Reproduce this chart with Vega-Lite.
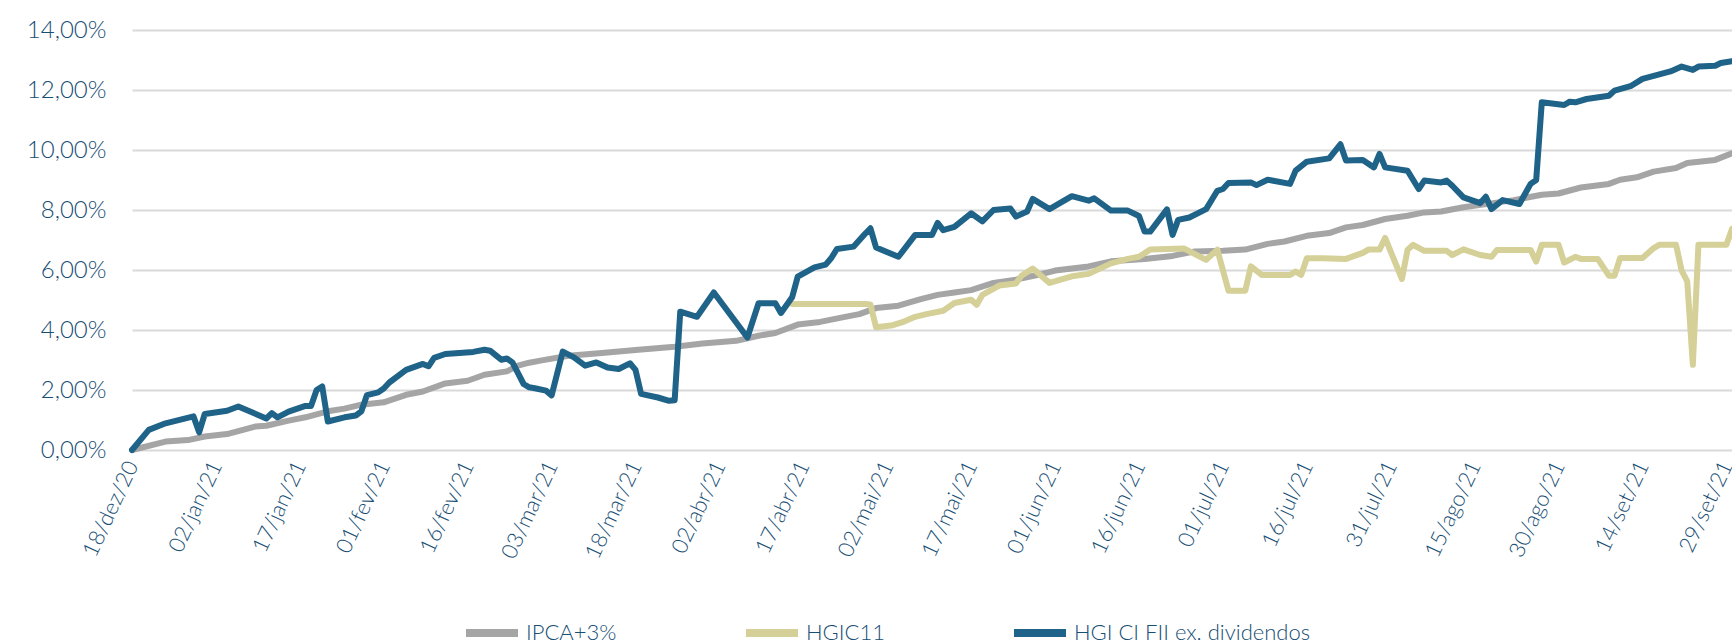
{
  "$schema": "https://vega.github.io/schema/vega-lite/v6.json",
  "width": 1600,
  "height": 420,
  "autosize": {"type": "none"},
  "padding": {"left": 132, "top": 30, "right": 0, "bottom": 193},
  "background": "white",
  "config": {
    "view": {"stroke": null},
    "font": "Lato",
    "axis": {"labelFont": "Lato", "labelFontWeight": 300, "labelColor": "#174E74", "domain": false, "ticks": false}
  },
  "data": {"values": [
    {"s":"IPCA+3%","d":"2020-12-18","v":0},
    {"s":"IPCA+3%","d":"2020-12-24","v":0.28},
    {"s":"IPCA+3%","d":"2020-12-28","v":0.33},
    {"s":"IPCA+3%","d":"2020-12-31","v":0.45},
    {"s":"IPCA+3%","d":"2021-01-04","v":0.53},
    {"s":"IPCA+3%","d":"2021-01-09","v":0.78},
    {"s":"IPCA+3%","d":"2021-01-11","v":0.81},
    {"s":"IPCA+3%","d":"2021-01-15","v":0.98},
    {"s":"IPCA+3%","d":"2021-01-18","v":1.09},
    {"s":"IPCA+3%","d":"2021-01-22","v":1.29},
    {"s":"IPCA+3%","d":"2021-01-25","v":1.38},
    {"s":"IPCA+3%","d":"2021-01-28","v":1.51},
    {"s":"IPCA+3%","d":"2021-02-01","v":1.59},
    {"s":"IPCA+3%","d":"2021-02-05","v":1.84},
    {"s":"IPCA+3%","d":"2021-02-08","v":1.95},
    {"s":"IPCA+3%","d":"2021-02-12","v":2.22},
    {"s":"IPCA+3%","d":"2021-02-16","v":2.31},
    {"s":"IPCA+3%","d":"2021-02-19","v":2.51},
    {"s":"IPCA+3%","d":"2021-02-23","v":2.62},
    {"s":"IPCA+3%","d":"2021-02-25","v":2.81},
    {"s":"IPCA+3%","d":"2021-02-27","v":2.91},
    {"s":"IPCA+3%","d":"2021-03-01","v":2.98},
    {"s":"IPCA+3%","d":"2021-03-06","v":3.14},
    {"s":"IPCA+3%","d":"2021-03-12","v":3.23},
    {"s":"IPCA+3%","d":"2021-03-18","v":3.33},
    {"s":"IPCA+3%","d":"2021-03-25","v":3.44},
    {"s":"IPCA+3%","d":"2021-03-30","v":3.55},
    {"s":"IPCA+3%","d":"2021-04-05","v":3.64},
    {"s":"IPCA+3%","d":"2021-04-09","v":3.81},
    {"s":"IPCA+3%","d":"2021-04-12","v":3.9},
    {"s":"IPCA+3%","d":"2021-04-16","v":4.18},
    {"s":"IPCA+3%","d":"2021-04-20","v":4.27},
    {"s":"IPCA+3%","d":"2021-04-24","v":4.42},
    {"s":"IPCA+3%","d":"2021-04-27","v":4.53},
    {"s":"IPCA+3%","d":"2021-04-30","v":4.73},
    {"s":"IPCA+3%","d":"2021-05-04","v":4.81},
    {"s":"IPCA+3%","d":"2021-05-08","v":5.03},
    {"s":"IPCA+3%","d":"2021-05-11","v":5.17},
    {"s":"IPCA+3%","d":"2021-05-14","v":5.25},
    {"s":"IPCA+3%","d":"2021-05-17","v":5.33},
    {"s":"IPCA+3%","d":"2021-05-21","v":5.57},
    {"s":"IPCA+3%","d":"2021-05-25","v":5.68},
    {"s":"IPCA+3%","d":"2021-05-29","v":5.84},
    {"s":"IPCA+3%","d":"2021-06-01","v":5.98},
    {"s":"IPCA+3%","d":"2021-06-07","v":6.12},
    {"s":"IPCA+3%","d":"2021-06-11","v":6.29},
    {"s":"IPCA+3%","d":"2021-06-17","v":6.37},
    {"s":"IPCA+3%","d":"2021-06-22","v":6.47},
    {"s":"IPCA+3%","d":"2021-06-26","v":6.62},
    {"s":"IPCA+3%","d":"2021-07-01","v":6.64},
    {"s":"IPCA+3%","d":"2021-07-05","v":6.68},
    {"s":"IPCA+3%","d":"2021-07-09","v":6.87},
    {"s":"IPCA+3%","d":"2021-07-12","v":6.95},
    {"s":"IPCA+3%","d":"2021-07-16","v":7.14},
    {"s":"IPCA+3%","d":"2021-07-20","v":7.23},
    {"s":"IPCA+3%","d":"2021-07-23","v":7.42},
    {"s":"IPCA+3%","d":"2021-07-26","v":7.5},
    {"s":"IPCA+3%","d":"2021-07-30","v":7.7},
    {"s":"IPCA+3%","d":"2021-08-03","v":7.81},
    {"s":"IPCA+3%","d":"2021-08-06","v":7.92},
    {"s":"IPCA+3%","d":"2021-08-09","v":7.95},
    {"s":"IPCA+3%","d":"2021-08-13","v":8.09},
    {"s":"IPCA+3%","d":"2021-08-18","v":8.22},
    {"s":"IPCA+3%","d":"2021-08-22","v":8.33},
    {"s":"IPCA+3%","d":"2021-08-27","v":8.51},
    {"s":"IPCA+3%","d":"2021-08-30","v":8.55},
    {"s":"IPCA+3%","d":"2021-09-03","v":8.75},
    {"s":"IPCA+3%","d":"2021-09-08","v":8.87},
    {"s":"IPCA+3%","d":"2021-09-10","v":9.01},
    {"s":"IPCA+3%","d":"2021-09-13","v":9.09},
    {"s":"IPCA+3%","d":"2021-09-16","v":9.28},
    {"s":"IPCA+3%","d":"2021-09-20","v":9.4},
    {"s":"IPCA+3%","d":"2021-09-22","v":9.57},
    {"s":"IPCA+3%","d":"2021-09-27","v":9.67},
    {"s":"IPCA+3%","d":"2021-09-30","v":9.89},
    {"s":"HGIC11","d":"2021-04-15","v":4.87},
    {"s":"HGIC11","d":"2021-04-28","v":4.87},
    {"s":"HGIC11","d":"2021-04-29","v":4.85},
    {"s":"HGIC11","d":"2021-04-30","v":4.09},
    {"s":"HGIC11","d":"2021-05-03","v":4.16},
    {"s":"HGIC11","d":"2021-05-05","v":4.28},
    {"s":"HGIC11","d":"2021-05-07","v":4.44},
    {"s":"HGIC11","d":"2021-05-09","v":4.53},
    {"s":"HGIC11","d":"2021-05-12","v":4.64},
    {"s":"HGIC11","d":"2021-05-14","v":4.9},
    {"s":"HGIC11","d":"2021-05-17","v":5.01},
    {"s":"HGIC11","d":"2021-05-18","v":4.84},
    {"s":"HGIC11","d":"2021-05-19","v":5.17},
    {"s":"HGIC11","d":"2021-05-22","v":5.48},
    {"s":"HGIC11","d":"2021-05-25","v":5.55},
    {"s":"HGIC11","d":"2021-05-26","v":5.81},
    {"s":"HGIC11","d":"2021-05-28","v":6.05},
    {"s":"HGIC11","d":"2021-05-31","v":5.57},
    {"s":"HGIC11","d":"2021-06-04","v":5.79},
    {"s":"HGIC11","d":"2021-06-07","v":5.87},
    {"s":"HGIC11","d":"2021-06-11","v":6.22},
    {"s":"HGIC11","d":"2021-06-14","v":6.37},
    {"s":"HGIC11","d":"2021-06-16","v":6.44},
    {"s":"HGIC11","d":"2021-06-18","v":6.68},
    {"s":"HGIC11","d":"2021-06-24","v":6.72},
    {"s":"HGIC11","d":"2021-06-28","v":6.34},
    {"s":"HGIC11","d":"2021-06-30","v":6.68},
    {"s":"HGIC11","d":"2021-07-02","v":5.31},
    {"s":"HGIC11","d":"2021-07-05","v":5.31},
    {"s":"HGIC11","d":"2021-07-06","v":6.12},
    {"s":"HGIC11","d":"2021-07-08","v":5.83},
    {"s":"HGIC11","d":"2021-07-13","v":5.83},
    {"s":"HGIC11","d":"2021-07-14","v":5.95},
    {"s":"HGIC11","d":"2021-07-15","v":5.84},
    {"s":"HGIC11","d":"2021-07-16","v":6.39},
    {"s":"HGIC11","d":"2021-07-19","v":6.39},
    {"s":"HGIC11","d":"2021-07-23","v":6.37},
    {"s":"HGIC11","d":"2021-07-26","v":6.57},
    {"s":"HGIC11","d":"2021-07-27","v":6.68},
    {"s":"HGIC11","d":"2021-07-29","v":6.68},
    {"s":"HGIC11","d":"2021-07-30","v":7.07},
    {"s":"HGIC11","d":"2021-08-02","v":5.7},
    {"s":"HGIC11","d":"2021-08-03","v":6.67},
    {"s":"HGIC11","d":"2021-08-04","v":6.84},
    {"s":"HGIC11","d":"2021-08-06","v":6.64},
    {"s":"HGIC11","d":"2021-08-10","v":6.64},
    {"s":"HGIC11","d":"2021-08-11","v":6.5},
    {"s":"HGIC11","d":"2021-08-13","v":6.69},
    {"s":"HGIC11","d":"2021-08-16","v":6.5},
    {"s":"HGIC11","d":"2021-08-18","v":6.44},
    {"s":"HGIC11","d":"2021-08-19","v":6.67},
    {"s":"HGIC11","d":"2021-08-25","v":6.67},
    {"s":"HGIC11","d":"2021-08-26","v":6.28},
    {"s":"HGIC11","d":"2021-08-27","v":6.84},
    {"s":"HGIC11","d":"2021-08-30","v":6.84},
    {"s":"HGIC11","d":"2021-08-31","v":6.25},
    {"s":"HGIC11","d":"2021-09-02","v":6.44},
    {"s":"HGIC11","d":"2021-09-03","v":6.37},
    {"s":"HGIC11","d":"2021-09-06","v":6.37},
    {"s":"HGIC11","d":"2021-09-08","v":5.81},
    {"s":"HGIC11","d":"2021-09-09","v":5.81},
    {"s":"HGIC11","d":"2021-09-10","v":6.4},
    {"s":"HGIC11","d":"2021-09-14","v":6.4},
    {"s":"HGIC11","d":"2021-09-16","v":6.73},
    {"s":"HGIC11","d":"2021-09-17","v":6.84},
    {"s":"HGIC11","d":"2021-09-20","v":6.84},
    {"s":"HGIC11","d":"2021-09-21","v":5.98},
    {"s":"HGIC11","d":"2021-09-22","v":5.62},
    {"s":"HGIC11","d":"2021-09-23","v":2.84},
    {"s":"HGIC11","d":"2021-09-24","v":6.84},
    {"s":"HGIC11","d":"2021-09-29","v":6.84},
    {"s":"HGIC11","d":"2021-09-30","v":7.37},
    {"s":"HGI CI FII ex. dividendos","d":"2020-12-18","v":0},
    {"s":"HGI CI FII ex. dividendos","d":"2020-12-21","v":0.67},
    {"s":"HGI CI FII ex. dividendos","d":"2020-12-24","v":0.89},
    {"s":"HGI CI FII ex. dividendos","d":"2020-12-29","v":1.12},
    {"s":"HGI CI FII ex. dividendos","d":"2020-12-30","v":0.59},
    {"s":"HGI CI FII ex. dividendos","d":"2020-12-31","v":1.2},
    {"s":"HGI CI FII ex. dividendos","d":"2021-01-04","v":1.31},
    {"s":"HGI CI FII ex. dividendos","d":"2021-01-06","v":1.45},
    {"s":"HGI CI FII ex. dividendos","d":"2021-01-11","v":1.05},
    {"s":"HGI CI FII ex. dividendos","d":"2021-01-12","v":1.23},
    {"s":"HGI CI FII ex. dividendos","d":"2021-01-13","v":1.09},
    {"s":"HGI CI FII ex. dividendos","d":"2021-01-15","v":1.28},
    {"s":"HGI CI FII ex. dividendos","d":"2021-01-18","v":1.47},
    {"s":"HGI CI FII ex. dividendos","d":"2021-01-19","v":1.47},
    {"s":"HGI CI FII ex. dividendos","d":"2021-01-20","v":2.0},
    {"s":"HGI CI FII ex. dividendos","d":"2021-01-21","v":2.12},
    {"s":"HGI CI FII ex. dividendos","d":"2021-01-22","v":0.95},
    {"s":"HGI CI FII ex. dividendos","d":"2021-01-25","v":1.09},
    {"s":"HGI CI FII ex. dividendos","d":"2021-01-27","v":1.15},
    {"s":"HGI CI FII ex. dividendos","d":"2021-01-28","v":1.29},
    {"s":"HGI CI FII ex. dividendos","d":"2021-01-29","v":1.83},
    {"s":"HGI CI FII ex. dividendos","d":"2021-01-31","v":1.92},
    {"s":"HGI CI FII ex. dividendos","d":"2021-02-01","v":2.05},
    {"s":"HGI CI FII ex. dividendos","d":"2021-02-02","v":2.25},
    {"s":"HGI CI FII ex. dividendos","d":"2021-02-05","v":2.67},
    {"s":"HGI CI FII ex. dividendos","d":"2021-02-08","v":2.87},
    {"s":"HGI CI FII ex. dividendos","d":"2021-02-09","v":2.79},
    {"s":"HGI CI FII ex. dividendos","d":"2021-02-10","v":3.07},
    {"s":"HGI CI FII ex. dividendos","d":"2021-02-12","v":3.2},
    {"s":"HGI CI FII ex. dividendos","d":"2021-02-17","v":3.27},
    {"s":"HGI CI FII ex. dividendos","d":"2021-02-19","v":3.34},
    {"s":"HGI CI FII ex. dividendos","d":"2021-02-20","v":3.31},
    {"s":"HGI CI FII ex. dividendos","d":"2021-02-22","v":3.01},
    {"s":"HGI CI FII ex. dividendos","d":"2021-02-23","v":3.05},
    {"s":"HGI CI FII ex. dividendos","d":"2021-02-24","v":2.92},
    {"s":"HGI CI FII ex. dividendos","d":"2021-02-26","v":2.2},
    {"s":"HGI CI FII ex. dividendos","d":"2021-02-27","v":2.09},
    {"s":"HGI CI FII ex. dividendos","d":"2021-02-28","v":2.06},
    {"s":"HGI CI FII ex. dividendos","d":"2021-03-02","v":1.98},
    {"s":"HGI CI FII ex. dividendos","d":"2021-03-03","v":1.82},
    {"s":"HGI CI FII ex. dividendos","d":"2021-03-05","v":3.28},
    {"s":"HGI CI FII ex. dividendos","d":"2021-03-07","v":3.09},
    {"s":"HGI CI FII ex. dividendos","d":"2021-03-09","v":2.81},
    {"s":"HGI CI FII ex. dividendos","d":"2021-03-11","v":2.92},
    {"s":"HGI CI FII ex. dividendos","d":"2021-03-13","v":2.75},
    {"s":"HGI CI FII ex. dividendos","d":"2021-03-15","v":2.7},
    {"s":"HGI CI FII ex. dividendos","d":"2021-03-17","v":2.89},
    {"s":"HGI CI FII ex. dividendos","d":"2021-03-18","v":2.67},
    {"s":"HGI CI FII ex. dividendos","d":"2021-03-19","v":1.87},
    {"s":"HGI CI FII ex. dividendos","d":"2021-03-22","v":1.75},
    {"s":"HGI CI FII ex. dividendos","d":"2021-03-24","v":1.64},
    {"s":"HGI CI FII ex. dividendos","d":"2021-03-25","v":1.66},
    {"s":"HGI CI FII ex. dividendos","d":"2021-03-26","v":4.61},
    {"s":"HGI CI FII ex. dividendos","d":"2021-03-29","v":4.44},
    {"s":"HGI CI FII ex. dividendos","d":"2021-04-01","v":5.25},
    {"s":"HGI CI FII ex. dividendos","d":"2021-04-07","v":3.75},
    {"s":"HGI CI FII ex. dividendos","d":"2021-04-09","v":4.89},
    {"s":"HGI CI FII ex. dividendos","d":"2021-04-12","v":4.89},
    {"s":"HGI CI FII ex. dividendos","d":"2021-04-13","v":4.57},
    {"s":"HGI CI FII ex. dividendos","d":"2021-04-15","v":5.09},
    {"s":"HGI CI FII ex. dividendos","d":"2021-04-16","v":5.78},
    {"s":"HGI CI FII ex. dividendos","d":"2021-04-19","v":6.09},
    {"s":"HGI CI FII ex. dividendos","d":"2021-04-21","v":6.18},
    {"s":"HGI CI FII ex. dividendos","d":"2021-04-22","v":6.4},
    {"s":"HGI CI FII ex. dividendos","d":"2021-04-23","v":6.7},
    {"s":"HGI CI FII ex. dividendos","d":"2021-04-26","v":6.78},
    {"s":"HGI CI FII ex. dividendos","d":"2021-04-28","v":7.2},
    {"s":"HGI CI FII ex. dividendos","d":"2021-04-29","v":7.39},
    {"s":"HGI CI FII ex. dividendos","d":"2021-04-30","v":6.75},
    {"s":"HGI CI FII ex. dividendos","d":"2021-05-04","v":6.44},
    {"s":"HGI CI FII ex. dividendos","d":"2021-05-07","v":7.17},
    {"s":"HGI CI FII ex. dividendos","d":"2021-05-10","v":7.17},
    {"s":"HGI CI FII ex. dividendos","d":"2021-05-11","v":7.57},
    {"s":"HGI CI FII ex. dividendos","d":"2021-05-12","v":7.33},
    {"s":"HGI CI FII ex. dividendos","d":"2021-05-14","v":7.44},
    {"s":"HGI CI FII ex. dividendos","d":"2021-05-17","v":7.89},
    {"s":"HGI CI FII ex. dividendos","d":"2021-05-19","v":7.62},
    {"s":"HGI CI FII ex. dividendos","d":"2021-05-21","v":8.0},
    {"s":"HGI CI FII ex. dividendos","d":"2021-05-24","v":8.05},
    {"s":"HGI CI FII ex. dividendos","d":"2021-05-25","v":7.78},
    {"s":"HGI CI FII ex. dividendos","d":"2021-05-27","v":7.95},
    {"s":"HGI CI FII ex. dividendos","d":"2021-05-28","v":8.37},
    {"s":"HGI CI FII ex. dividendos","d":"2021-05-31","v":8.03},
    {"s":"HGI CI FII ex. dividendos","d":"2021-06-04","v":8.46},
    {"s":"HGI CI FII ex. dividendos","d":"2021-06-07","v":8.31},
    {"s":"HGI CI FII ex. dividendos","d":"2021-06-08","v":8.39},
    {"s":"HGI CI FII ex. dividendos","d":"2021-06-11","v":7.98},
    {"s":"HGI CI FII ex. dividendos","d":"2021-06-14","v":7.98},
    {"s":"HGI CI FII ex. dividendos","d":"2021-06-16","v":7.8},
    {"s":"HGI CI FII ex. dividendos","d":"2021-06-17","v":7.28},
    {"s":"HGI CI FII ex. dividendos","d":"2021-06-18","v":7.28},
    {"s":"HGI CI FII ex. dividendos","d":"2021-06-21","v":8.02},
    {"s":"HGI CI FII ex. dividendos","d":"2021-06-22","v":7.17},
    {"s":"HGI CI FII ex. dividendos","d":"2021-06-23","v":7.67},
    {"s":"HGI CI FII ex. dividendos","d":"2021-06-25","v":7.75},
    {"s":"HGI CI FII ex. dividendos","d":"2021-06-28","v":8.03},
    {"s":"HGI CI FII ex. dividendos","d":"2021-06-30","v":8.64},
    {"s":"HGI CI FII ex. dividendos","d":"2021-07-01","v":8.7},
    {"s":"HGI CI FII ex. dividendos","d":"2021-07-02","v":8.9},
    {"s":"HGI CI FII ex. dividendos","d":"2021-07-06","v":8.92},
    {"s":"HGI CI FII ex. dividendos","d":"2021-07-07","v":8.83},
    {"s":"HGI CI FII ex. dividendos","d":"2021-07-09","v":9.01},
    {"s":"HGI CI FII ex. dividendos","d":"2021-07-13","v":8.87},
    {"s":"HGI CI FII ex. dividendos","d":"2021-07-14","v":9.31},
    {"s":"HGI CI FII ex. dividendos","d":"2021-07-16","v":9.61},
    {"s":"HGI CI FII ex. dividendos","d":"2021-07-20","v":9.72},
    {"s":"HGI CI FII ex. dividendos","d":"2021-07-22","v":10.19},
    {"s":"HGI CI FII ex. dividendos","d":"2021-07-23","v":9.65},
    {"s":"HGI CI FII ex. dividendos","d":"2021-07-26","v":9.67},
    {"s":"HGI CI FII ex. dividendos","d":"2021-07-28","v":9.42},
    {"s":"HGI CI FII ex. dividendos","d":"2021-07-29","v":9.87},
    {"s":"HGI CI FII ex. dividendos","d":"2021-07-30","v":9.42},
    {"s":"HGI CI FII ex. dividendos","d":"2021-08-03","v":9.31},
    {"s":"HGI CI FII ex. dividendos","d":"2021-08-05","v":8.7},
    {"s":"HGI CI FII ex. dividendos","d":"2021-08-06","v":8.98},
    {"s":"HGI CI FII ex. dividendos","d":"2021-08-09","v":8.92},
    {"s":"HGI CI FII ex. dividendos","d":"2021-08-10","v":8.98},
    {"s":"HGI CI FII ex. dividendos","d":"2021-08-11","v":8.81},
    {"s":"HGI CI FII ex. dividendos","d":"2021-08-13","v":8.42},
    {"s":"HGI CI FII ex. dividendos","d":"2021-08-16","v":8.23},
    {"s":"HGI CI FII ex. dividendos","d":"2021-08-17","v":8.44},
    {"s":"HGI CI FII ex. dividendos","d":"2021-08-18","v":8.03},
    {"s":"HGI CI FII ex. dividendos","d":"2021-08-20","v":8.33},
    {"s":"HGI CI FII ex. dividendos","d":"2021-08-23","v":8.2},
    {"s":"HGI CI FII ex. dividendos","d":"2021-08-25","v":8.87},
    {"s":"HGI CI FII ex. dividendos","d":"2021-08-26","v":9.0},
    {"s":"HGI CI FII ex. dividendos","d":"2021-08-27","v":11.59},
    {"s":"HGI CI FII ex. dividendos","d":"2021-08-31","v":11.5},
    {"s":"HGI CI FII ex. dividendos","d":"2021-09-01","v":11.61},
    {"s":"HGI CI FII ex. dividendos","d":"2021-09-02","v":11.59},
    {"s":"HGI CI FII ex. dividendos","d":"2021-09-04","v":11.7},
    {"s":"HGI CI FII ex. dividendos","d":"2021-09-08","v":11.81},
    {"s":"HGI CI FII ex. dividendos","d":"2021-09-09","v":11.98},
    {"s":"HGI CI FII ex. dividendos","d":"2021-09-12","v":12.14},
    {"s":"HGI CI FII ex. dividendos","d":"2021-09-14","v":12.37},
    {"s":"HGI CI FII ex. dividendos","d":"2021-09-18","v":12.57},
    {"s":"HGI CI FII ex. dividendos","d":"2021-09-19","v":12.62},
    {"s":"HGI CI FII ex. dividendos","d":"2021-09-21","v":12.78},
    {"s":"HGI CI FII ex. dividendos","d":"2021-09-23","v":12.67},
    {"s":"HGI CI FII ex. dividendos","d":"2021-09-24","v":12.78},
    {"s":"HGI CI FII ex. dividendos","d":"2021-09-27","v":12.81},
    {"s":"HGI CI FII ex. dividendos","d":"2021-09-28","v":12.9},
    {"s":"HGI CI FII ex. dividendos","d":"2021-09-30","v":12.96}
  ]},
  "mark": {"type": "line", "strokeWidth": 6, "strokeJoin": "round", "strokeCap": "round", "clip": false},
  "encoding": {
    "x": {
      "field": "d", "type": "temporal", "title": null,
      "scale": {"type": "utc", "domain": [1608249600000, 1632960000000]},
      "axis": {
        "values": [1608249600000,1609545600000,1610841600000,1612137600000,1613433600000,1614729600000,1616025600000,1617321600000,1618617600000,1619913600000,1621209600000,1622505600000,1623801600000,1625097600000,1626393600000,1627689600000,1628985600000,1630281600000,1631577600000,1632873600000],
        "labelExpr": "utcFormat(datum.value, '%d') + '/' + ['jan','fev','mar','abr','mai','jun','jul','ago','set','out','nov','dez'][utcmonth(datum.value)] + '/' + utcFormat(datum.value, '%y')",
        "labelAngle": -65, "labelAlign": "right", "labelBaseline": "middle",
        "labelFontSize": 22, "labelPadding": 12, "grid": false,
        "labelOverlap": false, "labelBound": false, "labelFlush": false
      }
    },
    "y": {
      "field": "v", "type": "quantitative", "title": null,
      "scale": {"domain": [0, 14], "nice": false, "zero": true},
      "axis": {
        "values": [0,2,4,6,8,10,12,14],
        "labelExpr": "replace(format(datum.value, '.2f'), '.', ',') + '%'",
        "labelFontSize": 24, "labelPadding": 26,
        "grid": true, "gridColor": "#D9D9D9", "gridWidth": 2
      }
    },
    "color": {
      "field": "s", "type": "nominal", "sort": null,
      "scale": {"domain": ["IPCA+3%", "HGIC11", "HGI CI FII ex. dividendos"], "range": ["#A5A5A5", "#D5CF98", "#1F6389"]},
      "legend": {
        "title": null, "orient": "none", "legendX": 330, "legendY": 573,
        "direction": "horizontal", "symbolType": "stroke", "symbolSize": 2704,
        "symbolStrokeWidth": 8, "labelFontSize": 22, "labelFont": "Lato", "labelFontWeight": 300,
        "labelLimit": 0, "labelColor": "#174E74", "labelOffset": 4, "columnPadding": 113, "padding": 0
      }
    }
  }
}
